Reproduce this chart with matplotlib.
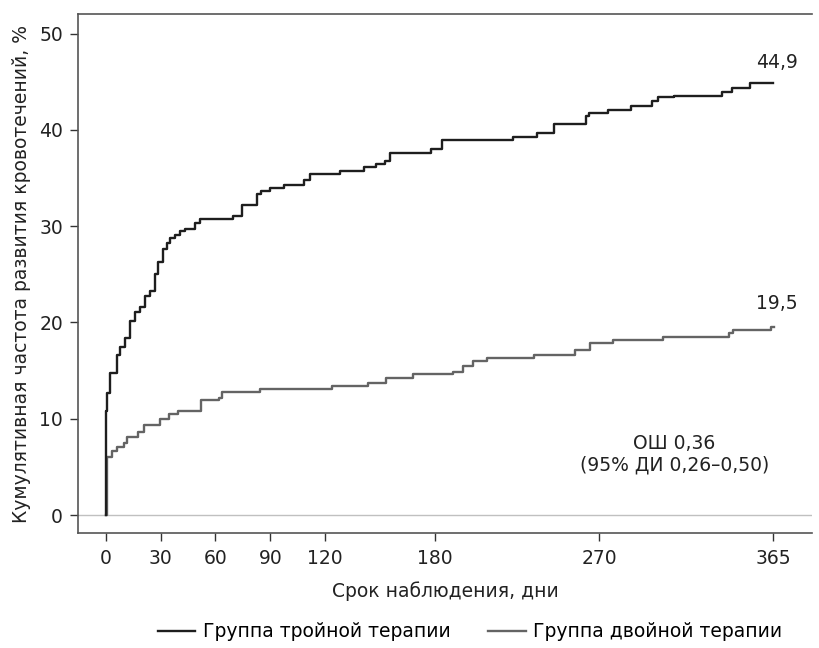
import matplotlib
matplotlib.use("Agg")
import matplotlib.pyplot as plt

plt.rcParams['font.family'] = ['DejaVu Sans']

# Группа тройной терапии: дни и кумулятивная частота, %
days_triple = [0, 0, 0.5, 2.4, 6, 7.8, 10.6, 13.3, 16, 18.8, 21.5, 24.2, 27, 28.8,
               31.5, 33.4, 35.2, 37.9, 40.6, 43.4, 48.8, 51.6, 69.5, 74.7, 82.6,
               84.8, 89.9, 97.5, 108.6, 111.8, 128.2, 141.3, 147.9, 152.8, 155.5,
               178, 183.8, 223, 235.8, 245.2, 262.6, 264.6, 275, 287.2, 299,
               302.3, 310.9, 337, 342.4, 352.5, 365]
vals_triple = [0, 10.8, 12.7, 14.8, 16.6, 17.5, 18.4, 20.2, 21.1, 21.6, 22.7, 23.3,
               25.0, 26.3, 27.6, 28.3, 28.8, 29.1, 29.5, 29.7, 30.3, 30.7, 31.1,
               32.2, 33.3, 33.7, 34.0, 34.3, 34.8, 35.4, 35.7, 36.1, 36.5, 36.8,
               37.6, 38.0, 38.9, 39.3, 39.7, 40.6, 41.4, 41.8, 42.1, 42.5, 43.0,
               43.4, 43.5, 43.9, 44.4, 44.9, 44.9]

# Группа двойной терапии
days_double = [0, 0.5, 3.3, 6, 10, 11.8, 17.5, 21, 29.7, 34.6, 39.4, 52.1, 62,
               63.8, 84.4, 123.6, 143.3, 153.2, 168.3, 190.2, 195.3, 200.8, 208.4,
               234.3, 256.7, 264.9, 277.7, 305, 341, 343.3, 364, 365.7]
vals_double = [0, 6.0, 6.6, 7.1, 7.5, 8.1, 8.6, 9.4, 10.0, 10.5, 10.8, 11.9, 12.2,
               12.8, 13.1, 13.4, 13.7, 14.2, 14.6, 14.9, 15.5, 16.0, 16.3, 16.6,
               17.1, 17.9, 18.2, 18.5, 18.9, 19.2, 19.5, 19.5]

x_ticks = [0, 30, 60, 90, 120, 180, 270, 365]
y_ticks = [0, 10, 20, 30, 40, 50]
end_labels = ['44,9', '19,5']

fs = 13.5
fig = plt.figure(figsize=(8.19, 6.48), dpi=100)
ax = fig.add_axes([0.0956, 0.177, 0.896, 0.8016])

ax.axhline(0, color='#c0c0c0', lw=1.0, zorder=1)
l1, = ax.step(days_triple, vals_triple, where='post', color='#1e1e1e', lw=1.7,
              label='Группа тройной терапии', zorder=3)
l2, = ax.step(days_double, vals_double, where='post', color='#646464', lw=1.7,
              label='Группа двойной терапии', zorder=2)

ax.text(367, 47.0, end_labels[0], fontsize=fs, ha='center', va='center', color='#222222')
ax.text(367, 22.0, end_labels[1], fontsize=fs, ha='center', va='center', color='#222222')
ax.text(311, 6.3, 'ОШ 0,36\n(95% ДИ 0,26–0,50)', fontsize=fs, ha='center',
        va='center', color='#222222', linespacing=1.15)

ax.set_xlim(-15, 386.4)
ax.set_ylim(-1.9, 52.05)
ax.set_xticks(x_ticks)
ax.set_yticks(y_ticks)
ax.tick_params(axis='both', labelsize=fs, length=6, width=1.0, color='#333333',
               labelcolor='#222222', pad=5)
for side in ['left', 'bottom', 'top']:
    ax.spines[side].set_color('#555555')
    ax.spines[side].set_linewidth(1.2)
ax.spines['right'].set_visible(False)

ax.set_xlabel('Срок наблюдения, дни', fontsize=fs, color='#222222', labelpad=10)
ax.set_ylabel('Кумулятивная частота развития кровотечений, %', fontsize=fs,
              color='#222222', labelpad=6)

fig.legend(handles=[l1, l2], loc='center', bbox_to_anchor=(0.574, 0.025), ncol=2,
           frameon=False, fontsize=fs, handlelength=2.0, columnspacing=2.0,
           handletextpad=0.4)

fig.savefig('out.png', dpi=100)
